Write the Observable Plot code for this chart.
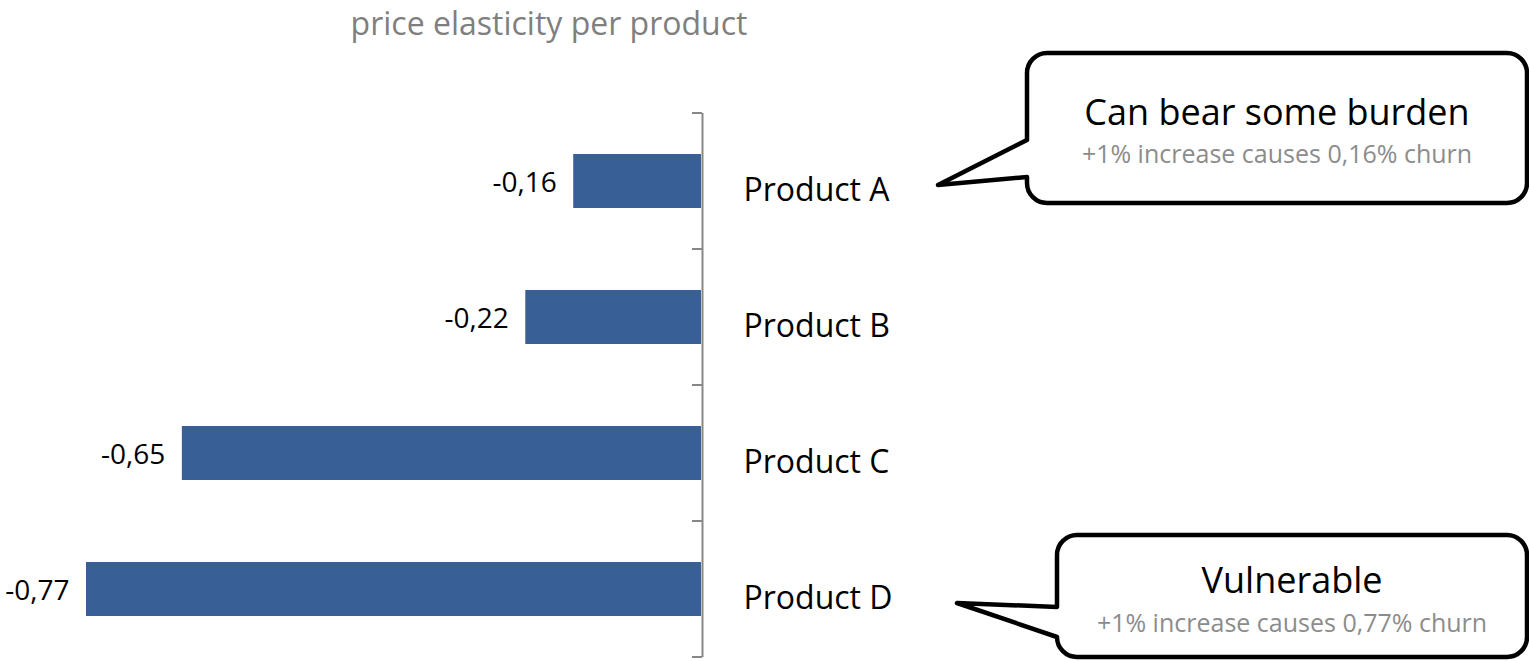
<!DOCTYPE html>
<html><head><meta charset="utf-8">
<script src="https://cdn.jsdelivr.net/npm/d3@7"></script>
<script src="https://cdn.jsdelivr.net/npm/@observablehq/plot@0.6"></script>
<style>html,body{margin:0;padding:0;background:#fff;overflow:hidden} svg{display:block}</style>
</head><body><div id="chart"></div>
<script>
const products = ["Product A", "Product B", "Product C", "Product D"];
const elasticity = [-0.16, -0.22, -0.65, -0.77];
const chartTitle = "price elasticity per product";
const calloutTargets = ["Product A", "Product D"];
const calloutHeadlines = ["Can bear some burden", "Vulnerable"];
const calloutNotes = ["+1% increase causes 0,16% churn", "+1% increase causes 0,77% churn"];

const data = products.map((p, i) => ({product: p, value: elasticity[i]}));
const fmt = v => v.toFixed(2).replace(".", ",");
const FONT = "'Open Sans', sans-serif";
const W = 1529, H = 661;

// layout of the speech-bubble callouts (pixels)
const calloutLayout = [
  {box: [1027, 53, 1527, 203], tail: [140, 177], tipDx: 237, tipDy: 4, headBase: 125, noteBase: 163},
  {box: [1057, 535, 1527, 657], tail: [607, 637], tipDx: 256, tipDy: 14, headBase: 593, noteBase: 632}
];

function decorations(index, scales, values, dims) {
  const g = d3.create("svg:g");
  const n = products.length;
  const x0 = scales.x(0);
  const top = dims.marginTop, bottom = dims.height - dims.marginBottom;
  const step = (bottom - top) / n;
  for (let i = 0; i <= n; i++) {
    const y = top + i * step;
    g.append("line").attr("x1", x0 - 9).attr("x2", x0 + 1).attr("y1", y).attr("y2", y)
      .attr("stroke", "#878787").attr("stroke-width", 2);
  }
  g.append("text").attr("x", 549).attr("y", 35).attr("text-anchor", "middle")
    .attr("fill", "#7f7f7f").attr("font-size", 32).attr("font-family", FONT).text(chartTitle);
  calloutTargets.forEach((t, k) => {
    const i = products.indexOf(t);
    const cy = top + (i + 0.5) * step;
    const L = calloutLayout[k];
    const [bx0, by0, bx1, by1] = L.box;
    const r = 20;
    const tx = x0 + L.tipDx, ty = cy + L.tipDy;
    const p = `M${bx0 + r},${by0}H${bx1 - r}A${r},${r} 0 0 1 ${bx1},${by0 + r}V${by1 - r}A${r},${r} 0 0 1 ${bx1 - r},${by1}H${bx0 + r}A${r},${r} 0 0 1 ${bx0},${by1 - r}V${L.tail[1]}L${tx},${ty}L${bx0},${L.tail[0]}V${by0 + r}A${r},${r} 0 0 1 ${bx0 + r},${by0}Z`;
    g.append("path").attr("d", p).attr("fill", "#fff").attr("stroke", "#000")
      .attr("stroke-width", 4.5).attr("stroke-linejoin", "round");
    const cx = (bx0 + bx1) / 2;
    g.append("text").attr("x", cx).attr("y", L.headBase).attr("text-anchor", "middle")
      .attr("fill", "#000").attr("font-size", 36).attr("font-family", FONT).text(calloutHeadlines[k]);
    g.append("text").attr("x", cx).attr("y", L.noteBase).attr("text-anchor", "middle")
      .attr("fill", "#8c8c8c").attr("font-size", 25).attr("font-family", FONT).text(calloutNotes[k]);
  });
  return g.node();
}

const plot = Plot.plot({
  width: W, height: H,
  marginTop: 113, marginRight: 828, marginBottom: 4, marginLeft: 86,
  x: {domain: [-0.77, 0], axis: null},
  y: {domain: products, axis: null, paddingInner: 0.6, paddingOuter: 0.3},
  style: {fontFamily: FONT, background: "white", overflow: "visible"},
  marks: [
    Plot.barX(data, {x: "value", y: "product", fill: "#386096"}),
    Plot.ruleX([0], {stroke: "#878787", strokeWidth: 2, dx: 1}),
    Plot.text(data, {x: "value", y: "product", text: d => fmt(d.value), textAnchor: "end", dx: -17, dy: 2, fontSize: 28, fill: "#000"}),
    Plot.text(data, {x: 0, y: "product", text: "product", textAnchor: "start", dx: 42, dy: 9, fontSize: 32, fill: "#000"}),
    decorations
  ]
});
document.getElementById("chart").appendChild(plot);
</script>
</body></html>
